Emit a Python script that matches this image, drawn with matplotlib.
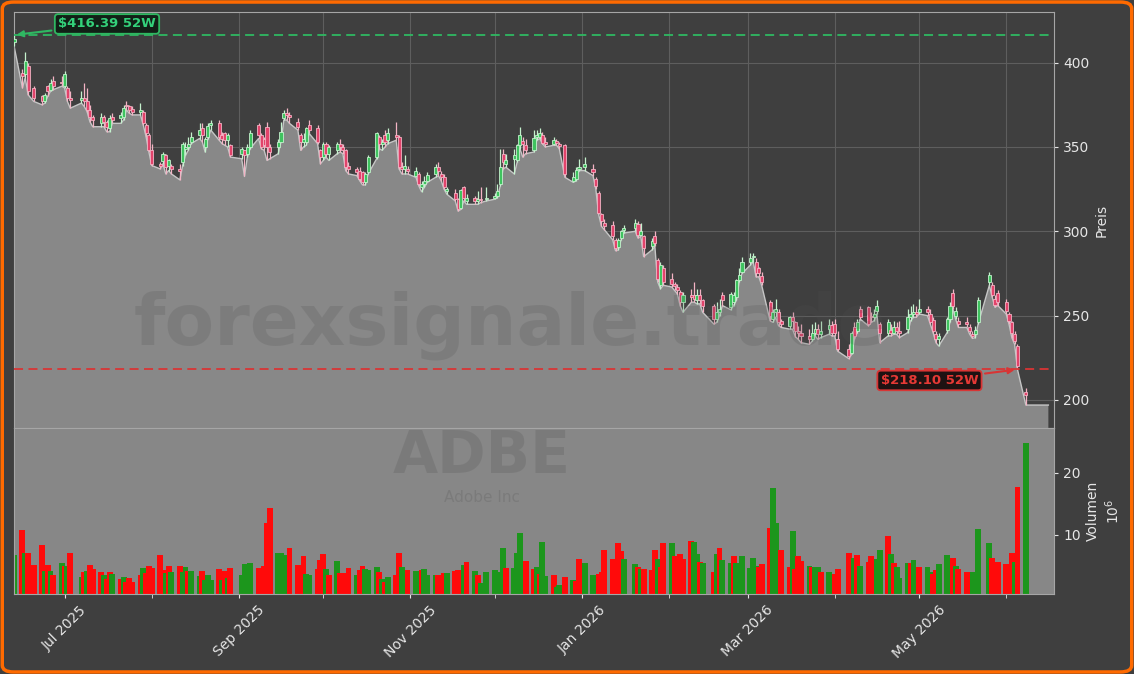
import matplotlib
matplotlib.use("Agg")
import matplotlib.pyplot as plt
import matplotlib.dates as mdates
from matplotlib.patches import FancyBboxPatch
from matplotlib.ticker import MultipleLocator
import numpy as np
import pandas as pd

# --- data ---
start_date = "2025-06-13"
holidays = ["2025-06-19", "2025-07-04", "2025-09-01", "2025-11-27", "2025-12-25",
            "2026-01-01", "2026-01-19", "2026-02-16", "2026-04-03", "2026-05-25"]
fill_end = "2026-06-16"

opens = [412.5, 394, 393, 398, 385, 380, 377, 386, 384, 389,
         388.5, 386, 385, 379, 378, 379, 377, 372, 368, 364,
         368, 365, 361, 368, 367, 368, 375, 374, 372.5, 371,
         371, 363, 357, 348, 340, 341.5, 345, 339, 339, 337,
         341, 349, 350, 353, 357, 361, 350, 356, 363, 364,
         357, 358, 354, 351, 346, 348, 346, 350, 363, 357,
         355, 362, 350, 350, 353, 367, 370, 369, 365, 357,
         353, 353, 363, 361, 348, 344, 352, 346, 348, 352,
         350, 348, 339, 337, 336, 335, 329, 335, 344, 356,
         352, 357, 354, 357, 356, 338, 337, 337, 333, 334,
         326, 328, 330, 334, 338, 334, 332, 324, 323, 319,
         314, 326, 318, 320, 318, 319, 319, 320, 321, 328,
         346, 340, 343, 342.5, 351, 353.5, 351, 348, 356, 356,
         357, 353, 352, 353.5, 352, 351, 330, 331, 337, 338,
         337, 331, 323, 310, 305, 304, 295, 290.5, 296, 300.5,
         302, 304.5, 298, 297, 291, 297.5, 283, 268, 278, 272,
         268.5, 267, 264, 258, 262, 262, 259, 262, 259, 256,
         248, 252, 262, 255, 258, 261, 271, 276, 282, 284.5,
         282, 278, 273.5, 258, 248, 252, 252, 247, 244, 249,
         246, 241, 240, 238, 236, 240, 242, 239, 242, 244.5,
         245, 236, 230, 228, 243, 241, 254, 255, 250, 249,
         253, 245, 240, 241.5, 240, 243, 241, 242, 249, 251,
         252, 252, 254, 251, 247.5, 239, 236, 241.5, 248, 263.5,
         250, 247, 246, 243.5, 239, 239, 246, 270, 268, 260,
         263.5, 258, 251, 246, 239, 232, 205]

highs = [416.39, 396, 406, 400, 386, 381, 382, 387, 390, 392,
         392, 395, 386, 383, 383, 388, 385, 375, 369, 370,
         369, 366, 369, 370, 371, 375, 377, 375, 374, 376,
         372, 364, 358, 352, 341, 347, 346, 343, 340, 340,
         353, 353, 356, 359, 364, 364, 356, 364, 366, 366,
         359, 359, 358, 352, 350, 348, 352, 360, 364, 358,
         356, 365, 352, 355, 365, 372, 373, 371, 367, 358,
         358, 362, 366, 363, 349, 353, 353, 351, 353, 355,
         352, 349, 341, 338, 338, 336, 335, 345, 359, 357,
         355, 360, 361, 365, 357, 341, 345, 339, 338, 335,
         330, 333, 335, 340, 341, 336, 334, 326, 325, 320,
         325, 327, 322, 321, 324, 326, 326, 323, 328, 349,
         349, 346, 349, 352, 362, 356, 355, 360, 360, 361,
         359, 356, 356, 355, 353, 352, 335, 338, 343, 344,
         340, 332, 324, 311, 307, 306, 296, 296, 301, 304,
         307, 306, 305, 298, 296, 300, 284, 282, 280, 275,
         270, 269, 265, 264, 266, 270, 266, 266, 260, 257,
         258, 260, 264, 264, 264, 272, 278, 285, 287, 287,
         284, 279, 276, 259, 254, 260, 254, 248, 250, 252,
         247, 244, 245, 242, 245, 246, 245, 247, 248, 247,
         248, 241, 233, 241, 246, 248, 256, 256, 252, 254,
         259, 246, 248, 245, 247, 246, 247, 254, 256, 257,
         256, 260, 256, 254, 249, 241, 240, 249, 258, 266,
         255, 249, 249, 245, 241, 244, 261, 276, 270, 262,
         265, 260, 252, 247, 241, 233, 207]

lows = [410, 385, 391, 381, 377, 375, 376, 380, 383, 384,
        386, 385, 377, 373, 376, 374, 371, 365, 362, 362,
        362, 359, 359, 364, 364, 366, 372, 370, 369, 369,
        363, 356, 347, 339, 337, 340, 334, 336, 334, 330.5,
        339, 345, 348, 352, 355, 353, 347, 355, 360, 354,
        352, 351, 350, 344, 343, 332.5, 344, 349, 355, 349,
        348, 342, 343, 346, 353, 366, 366, 364, 360, 348,
        350, 351, 358, 352, 340, 342, 344, 342, 346, 347,
        346, 336, 334, 333, 330, 327.5, 327.5, 334, 343, 349,
        348, 350, 352, 354, 337, 334, 334, 334, 332, 327,
        323.5, 326, 329, 332, 333, 330, 325, 322, 318, 312,
        313, 318, 316, 316, 316, 317, 318, 319, 320, 327,
        337, 338, 334, 341, 349, 344, 346, 347, 354, 355,
        352, 350, 351, 351, 349, 332, 329, 330, 336, 336,
        333, 325, 310, 303, 301, 295, 288.5, 289, 295, 299,
        300, 296, 297, 285, 289, 291, 270, 266, 268, 267,
        265, 263, 256, 252, 258, 258, 257, 257, 252, 245,
        246, 250, 256, 253.5, 256, 259, 270, 275, 280, 282,
        273, 273, 268, 247, 246, 249, 244, 243, 242, 242,
        237.5, 236, 234, 233, 235, 238, 236, 237, 239, 238,
        238, 229, 224.5, 227, 236, 240, 248, 244, 246, 247,
        251, 234, 238, 238, 239, 239, 237, 240, 247, 249,
        249, 251, 250, 245, 240, 234, 232, 240, 246, 254,
        248, 243, 243, 239, 236.5, 237, 245, 268, 261, 255,
        256, 251, 245, 237, 233, 218.1, 197]

closes = [414, 392, 401, 383, 379, 377, 381, 383, 388, 386,
          388, 393, 379, 378, 379, 377, 372, 368, 366, 368,
          365, 362, 367, 366, 369, 373, 374, 372, 371, 372,
          364, 358, 348, 340, 339, 346, 338, 342, 337, 336,
          352, 350, 352, 356, 360, 357, 355, 362.5, 364, 356,
          355, 354, 357, 345, 349, 345, 350, 358.5, 357, 350,
          351, 350, 347, 353, 359, 370, 369, 368, 362, 353,
          355, 361, 360, 353, 344, 352, 346, 350, 352, 350,
          348, 338, 337, 335, 331, 329, 334, 344, 358, 352,
          353, 353, 358, 356, 338, 337, 339, 336, 336, 328,
          328, 330, 333.5, 338, 336, 332, 326, 325, 319, 313,
          324.5, 320, 320, 318, 319, 318.5, 320, 321, 324, 338,
          341, 342, 345, 351, 357, 352, 348, 355.5, 357, 358.5,
          352.5, 352, 354, 352.5, 350.5, 334, 332, 336.5, 338, 340,
          335, 327, 311, 306, 303, 297, 290, 295, 300, 302,
          305, 298, 300, 290, 294, 293, 272, 280, 270, 269,
          267.5, 265, 258, 262, 261, 260, 262, 259, 256, 248,
          252, 254, 259, 263, 262, 271, 274, 282, 284, 285.5,
          275, 275, 270, 250, 252, 254, 246, 245, 249, 247,
          241, 240, 238, 236, 240, 242, 239, 241, 244.5, 240,
          240, 230.5, 226, 240, 238, 246, 249, 245, 249, 251,
          256, 240, 246, 240, 243, 241, 240, 249, 251, 252,
          251, 254, 252, 246, 241, 236, 238, 248, 256, 256,
          253, 245, 245, 241, 238, 241.5, 259.5, 274, 262, 256.5,
          258, 253, 247, 240, 235, 220, 203]

# volume in millions
volumes = [6.7, 10.8, 7.1, 7.1, 5.1, 8.4, 4.1, 5.1, 4.1, 3.5,
           5.4, 5.0, 5.0, 7.1, 3.2, 4.0, 4.1, 5.1, 4.5, 4.0,
           3.4, 2.9, 4.0, 3.7, 2.9, 3.2, 2.4, 3.0, 2.4,
           3.4, 4.6, 3.8, 5.0, 4.6, 6.7, 4.3, 3.8, 5.0, 3.9,
           4.9, 4.0, 4.7, 4.2, 4.1, 3.3, 4.1, 2.7, 3.5,
           2.7, 4.5, 2.7, 4.1, 3.0, 4.6, 3.4, 5.2, 5.0, 5.4,
           4.6, 4.6, 5.0, 11.9, 14.3, 7.0, 7.0, 6.7, 5.1, 7.9,
           5.1, 4.1, 6.5, 3.7, 3.5, 4.5, 5.9, 6.8, 4.4, 3.5,
           5.7, 3.8, 3.8, 3.4, 4.6, 3.4, 4.3, 5.0, 4.5,
           4.3, 4.7, 3.9, 2.8, 2.4, 3.2, 3.4, 7.0, 4.7, 4.1,
           4.3, 4.1, 3.0, 4.3, 4.5, 3.5, 3.4, 3.5, 3.3,
           3.8, 3.8, 4.1, 4.3, 4.3, 5.1, 5.6, 4.1, 3.4, 2.2,
           4.0, 4.3, 3.5, 4.0, 7.9, 4.6, 4.6, 7.1, 10.3, 5.8,
           5.7, 4.5, 4.7, 3.7, 8.9, 3.3, 3.5, 1.6, 1.9, 3.2,
           2.7, 2.5, 6.0, 5.4, 3.5, 3.5, 3.7, 4.0, 7.5,
           6.0, 5.0, 8.7, 7.3, 6.0, 5.2, 4.7, 4.5, 4.5, 4.3,
           7.6, 6.0, 4.7, 8.6, 8.7, 6.5, 5.7, 6.8, 6.0, 9.0,
           8.9, 6.8, 5.6, 5.4, 4.0, 6.8, 7.9, 5.9, 5.4, 6.5,
           5.4, 3.9, 6.5, 4.6, 6.2, 5.0, 4.8, 5.2, 11.1,
           17.5, 11.9, 6.7, 7.6, 4.7, 10.6, 4.5, 6.5, 5.7, 5.0,
           4.7, 4.7, 4.8, 4.0, 4.0, 3.2, 3.7, 4.5, 7.1, 6.2,
           6.3, 6.7, 5.0, 5.6, 6.5, 5.6, 6.0, 7.5, 9.8, 6.8,
           5.4, 4.8, 3.0, 5.4, 5.4, 5.9, 4.3, 4.7, 4.7, 4.0,
           3.7, 4.3, 5.2, 6.7, 5.9, 6.2, 5.0, 4.5, 4.0,
           3.6, 3.9, 3.9, 11.0, 8.7, 6.2, 5.2, 5.6, 5.2, 5.0,
           7.0, 5.6, 17.8, 24.8]

# G = green volume bar, R = red volume bar
vol_dir = ("GRGRRRGRGR" "GRGRGRGRRR" "GRRGRGRRR" "RGRRRRRGRG" "RGGRGGRGG"
           "GRGRGRGGGG" "RRRRRGGGGR" "RRRGGRRRGR" "GRRRRGRRG" "GGRGRGRRGG"
           "RGGRGGGRR" "RGRRRGRGRG" "GGGGGRGGGG"
           "RRGRGGRGGR" "GRRGGGRRR" "RRRRGGRGRR" "RGRRGRRRRR" "GGRGRGRGGR"
           "GGGGGGRRR" "GGGRRGRRRG" "RGGRGGRRRR" "GRGRRRGGRG" "RGGGRGGRGG"
           "RRGGGRGRR" "RGGGGRRRRR" "RGRG")

high_52w = 416.39
low_52w = 218.10
ticker = "ADBE"
company = "Adobe Inc"
watermark = "forexsignale.trade"

# --- build ---
bday = pd.offsets.CustomBusinessDay(holidays=holidays)
dates = pd.date_range(start_date, periods=len(closes), freq=bday)
x = mdates.date2num(dates)
o = np.array(opens); h = np.array(highs); l = np.array(lows); c = np.array(closes)

BG = "#3f3f3f"
fig = plt.figure(figsize=(11.34, 6.74), dpi=100, facecolor=BG)
W, H = 1134, 674
ax = fig.add_axes([14 / W, 1 - 428 / H, 1040 / W, 416 / H])
axv = fig.add_axes([14 / W, 1 - 594 / H, 1040 / W, 166 / H], sharex=ax)

ax.set_facecolor(BG)
axv.set_facecolor("#878787")

# area under the lows
x_fill = np.append(x, mdates.date2num(pd.Timestamp(fill_end)))
l_fill = np.append(l, l[-1])
ax.fill_between(x_fill, l_fill, 0, color="#888888", zorder=1, lw=0)
ax.plot(x_fill, l_fill, color="#c6c6c6", lw=1.0, zorder=2)

# candles
up = c >= o
body_col = np.where(up, "#3fc35f", "#e2436b")
edge_col = np.where(up, "#c4f1cd", "#f3b3c4")
ax.vlines(x, l, h, colors=edge_col, lw=0.9, zorder=3)
ax.bar(x, np.maximum(np.abs(c - o), 0.5), bottom=np.minimum(o, c), width=1.1,
       color=body_col, edgecolor=edge_col, linewidth=0.6, zorder=4)

# 52w lines + labels
ax.axhline(high_52w, color="#2fb862", lw=1.3, ls=(0, (5, 3)), zorder=5)
ax.axhline(low_52w, color="#d83535", lw=1.3, ls=(0, (5, 3)), zorder=5)
ax.annotate(f"${high_52w:.2f} 52W", xy=(x[int(np.argmax(h))], high_52w),
            xytext=(93, 11), textcoords="offset pixels", ha="center", va="center",
            color="#33d17a", fontsize=9.5, fontweight="bold", zorder=6,
            bbox=dict(boxstyle="round,pad=0.25", fc="#122017", ec="#2fb862", lw=1.3),
            arrowprops=dict(arrowstyle="-|>", color="#2fb862", lw=1.5, mutation_scale=9))
ax.annotate(f"${low_52w:.2f} 52W", xy=(x[lows.index(low_52w)], low_52w),
            xytext=(-88, -11), textcoords="offset pixels", ha="center", va="center",
            color="#e53935", fontsize=9.5, fontweight="bold", zorder=6,
            bbox=dict(boxstyle="round,pad=0.25", fc="#1e1212", ec="#d83535", lw=1.3),
            arrowprops=dict(arrowstyle="-|>", color="#d83535", lw=1.5, mutation_scale=9))

# volume
vcol = ["#1c961c" if d == "G" else "#ff0a0a" for d in vol_dir]
axv.bar(x, volumes, width=2.1, color=vcol, lw=0, zorder=2)

# axes styling
ax.set_ylim(183.4, 430)
axv.set_ylim(0.4, max(volumes) * 1.1)
ax.set_xlim(x[0], mdates.date2num(pd.Timestamp("2026-06-18")))

for a in (ax, axv):
    a.yaxis.tick_right()
    a.yaxis.set_label_position("right")
    for s in a.spines.values():
        s.set_color("#a6a6a6")
    a.tick_params(colors="#e6e6e6", labelsize=10, length=3)

ax.yaxis.set_major_locator(MultipleLocator(50))
axv.yaxis.set_major_locator(MultipleLocator(10))
ax.set_ylabel("Preis", color="#e6e6e6", fontsize=10)
axv.set_ylabel("Volumen\n$10^6$", color="#e6e6e6", fontsize=10)

axv.xaxis.set_major_locator(mdates.MonthLocator(bymonth=[1, 3, 5, 7, 9, 11]))
axv.xaxis.set_minor_locator(mdates.MonthLocator())
axv.xaxis.set_major_formatter(mdates.DateFormatter("%b %Y"))
axv.tick_params(axis="x", which="both", colors="#e6e6e6", length=3)
plt.setp(axv.get_xticklabels(), rotation=45, ha="center")
ax.tick_params(axis="x", which="both", labelbottom=False, length=0)

ax.set_axisbelow(True)
ax.grid(True, which="both", color="#5e5e5e", lw=0.8)

# watermarks
fig.text(0.45, 0.517, watermark, ha="center", va="center", fontsize=52,
         fontweight="bold", color="#505050", alpha=0.2, zorder=10)
fig.text(0.425, 0.322, ticker, ha="center", va="center", fontsize=42,
         fontweight="bold", color="#505050", alpha=0.22, zorder=10)
fig.text(0.425, 0.262, company, ha="center", va="center", fontsize=11,
         color="#505050", alpha=0.22, zorder=10)

# orange frame
fig.patches.append(FancyBboxPatch((0.002, 0.003), 0.996, 0.994,
                                  boxstyle="round,pad=0,rounding_size=0.01",
                                  transform=fig.transFigure, fc="none",
                                  ec="#ff6a00", lw=2.5))

fig.savefig("out.png", dpi=100, facecolor=BG)
